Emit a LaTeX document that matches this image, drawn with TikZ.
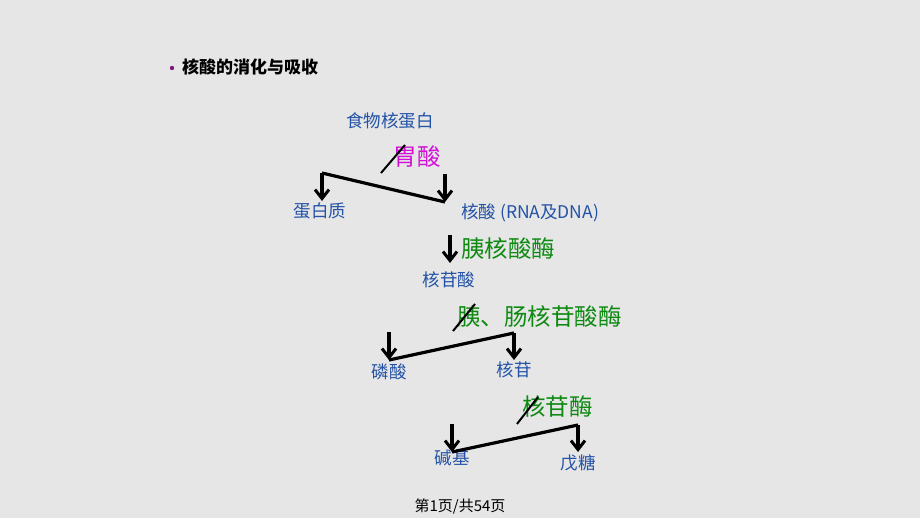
\documentclass[tikz,border=0pt]{standalone}
\usepackage{fontspec}
\setmainfont{Noto Sans CJK SC}
\usetikzlibrary{arrows.meta}
\definecolor{bgray}{HTML}{E6E6E6}
\definecolor{lblue}{HTML}{2352A6}
\definecolor{egreen}{HTML}{0E8A12}
\definecolor{amag}{HTML}{D10FD6}
\definecolor{bpurple}{HTML}{7A1A7A}
\begin{document}
\begin{tikzpicture}[x=1pt,y=-1pt,
    prod/.style={text=lblue, font=\fontsize{17.5}{19}\selectfont, inner sep=0pt},
    enz/.style={text=egreen, font=\fontsize{23.5}{25}\selectfont, inner sep=0pt, anchor=west},
    flow/.style={line width=3.2pt, -{Straight Barb[length=9pt,width=14pt,line width=3pt]}},
    bar/.style={line width=3.2pt},
    cut/.style={line width=2pt}]
    \fill[bgray] (0,0) rectangle (920,518);
    \useasboundingbox (0,0) rectangle (920,518);
    % title
    \fill[bpurple] (172,68) circle (2.2pt);
    \node[anchor=west, inner sep=0pt, font=\bfseries\fontsize{17}{19}\selectfont] (title) at (182,67) {核酸的消化与吸收};

    % step 1
    \node[prod] (food) at (390,121) {食物核蛋白};
    \node[text=amag, font=\fontsize{23.5}{25}\selectfont, inner sep=0pt] (acid) at (417,157) {胃酸};
    \node[prod] (prot) at (320,211) {蛋白质};
    \node[prod, anchor=west] (nucl) at (461,213) {核酸 (RNA及DNA)};
    \coordinate (a1) at (322,173); \coordinate (a2) at (322,201);
    \coordinate (b1) at (445,174); \coordinate (b2) at (445,202);
    \draw[bar] (a1) -- (b2);
    \draw[flow] (a1) -- (a2);
    \draw[flow] (b1) -- (b2);
    \draw[cut] (381,173) -- (405,145);

    % step 2
    \coordinate (c1) at (450,235); \coordinate (c2) at (450,263);
    \draw[flow] (c1) -- (c2);
    \node[enz] (pnase) at (461,249) {胰核酸酶};
    \node[prod] (ntide) at (449,280) {核苷酸};

    % step 3
    \node[enz] (nase) at (457,317) {胰、肠核苷酸酶};
    \node[prod] (phos) at (389,372) {磷酸};
    \node[prod] (nside) at (514,370) {核苷};
    \coordinate (d1) at (389,332); \coordinate (d2) at (389,360);
    \coordinate (e1) at (514,333); \coordinate (e2) at (514,360);
    \draw[bar] (d2) -- (e1);
    \draw[flow] (d1) -- (d2);
    \draw[flow] (e1) -- (e2);
    \draw[cut] (453,331) -- (475,304);

    % step 4
    \node[enz] (sase) at (522,407) {核苷酶};
    \node[prod] (base) at (452,458) {碱基};
    \node[prod] (sugar) at (578,463) {戊糖};
    \coordinate (f1) at (452,424); \coordinate (f2) at (452,452);
    \coordinate (g1) at (578,425); \coordinate (g2) at (578,452);
    \draw[bar] (f2) -- (g1);
    \draw[flow] (f1) -- (f2);
    \draw[flow] (g1) -- (g2);
    \draw[cut] (517,424) -- (538,397);

    % footer
    \node[inner sep=0pt, font=\fontsize{15}{17}\selectfont] (page) at (460,507) {第1页/共54页};
\end{tikzpicture}
\end{document}
